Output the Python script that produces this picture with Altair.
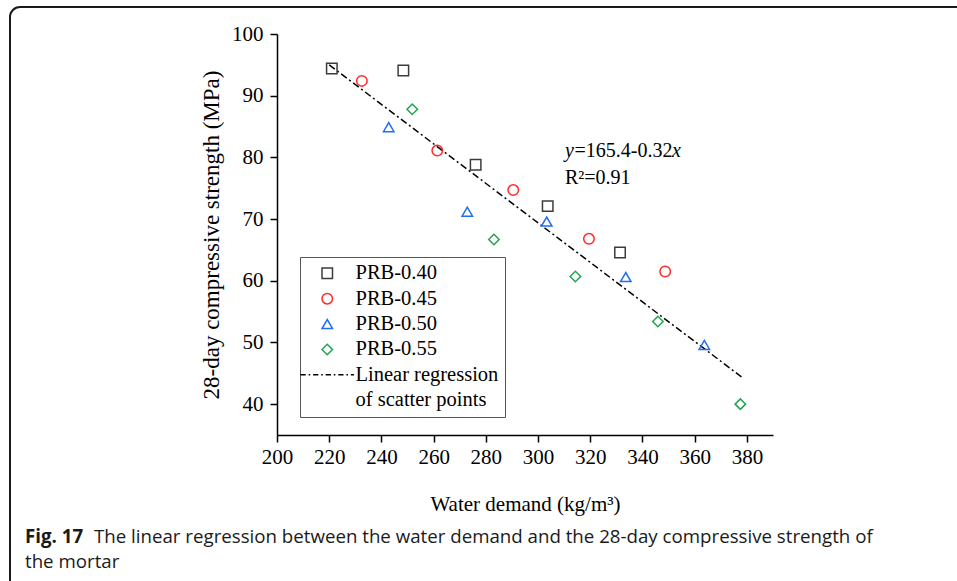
import altair as alt
import pandas as pd

# ---- data ----
series_names = ["PRB-0.40", "PRB-0.45", "PRB-0.50", "PRB-0.55"]
x_040 = [221.0, 248.4, 276.1, 303.7, 331.4]
y_040 = [94.4, 94.1, 78.8, 72.1, 64.6]
x_045 = [232.5, 261.4, 290.5, 319.5, 348.7]
y_045 = [92.4, 81.1, 74.7, 66.8, 61.5]
x_050 = [242.8, 272.9, 303.3, 333.6, 363.7]
y_050 = [84.9, 71.2, 69.6, 60.6, 49.6]
x_055 = [251.8, 283.1, 314.3, 345.9, 377.5]
y_055 = [87.8, 66.7, 60.7, 53.4, 40.0]

reg_x = [220.0, 378.0]
reg_y = [95.0, 44.4]

legend_extra = ["Linear regression", "of scatter points"]
x_ticks = list(range(200, 391, 10))
y_ticks = list(range(40, 101, 5))

eq_parts = ["y", "=165.4-0.32", "x"]
r2_text = "R\u00b2=0.91"
caption_bold = "Fig. 17"
caption_line1 = "The linear regression between the water demand and the 28-day compressive strength of"
caption_line2 = "the mortar"

# ---- tables ----
rows = []
for name, xs, ys in zip(series_names, [x_040, x_045, x_050, x_055], [y_040, y_045, y_050, y_055]):
    for xv, yv in zip(xs, ys):
        rows.append({"series": name, "x": xv, "y": yv})
pts = pd.DataFrame(rows)
reg = pd.DataFrame({"x": reg_x, "y": reg_y})

domain = series_names + legend_extra
colors = ["#3c3c3c", "#ff2a2a", "#1f6fee", "#22a552", "#000000", "transparent"]
dash_path = ("M-5.1,0H-4.1M-3.55,0H-3.25M-2.7,0H-1.7M-1.15,0H-0.85"
             "M-0.3,0H0.7M1.25,0H1.55M2.1,0H3.1M3.65,0H3.95M4.5,0H5.1")
shapes = ["square", "circle", "triangle-up", "diamond", dash_path, "M0,0L0,0"]
sizes = [110, 110, 240, 200, 100, 100]

SERIF = "Liberation Serif"
SANS = "Open Sans"

leg = alt.Legend(
    title=None, orient="none", legendX=23, legendY=223,
    strokeColor="#555555", fillColor="white", padding=6,
    labelFont=SERIF, labelFontSize=20.5, labelColor="black",
    labelOffset=18, rowPadding=4.4, symbolStrokeWidth=1.5,
    labelLimit=400, symbolOffset=11,
)

xscale = alt.Scale(domain=[200, 390], nice=False, zero=False)
yscale = alt.Scale(domain=[35, 100], nice=False, zero=False)

xaxis = alt.Axis(
    values=x_ticks, labelExpr="datum.value % 20 === 0 ? datum.label : ''",
    grid=False, labelOverlap=False, labelFlush=False, domainColor="black", domainWidth=1.5,
    tickColor="black", tickWidth=1.5, zindex=1,
    tickSize={"condition": {"test": "datum.value % 20 === 0", "value": 7}, "value": 4},
    labelFont=SERIF, labelFontSize=21, labelColor="black", labelPadding=4,
    title="Water demand (kg/m\u00b3)", titleFont=SERIF, titleFontSize=21,
    titleFontWeight="normal", titleColor="black", titlePadding=26,
)
yaxis = alt.Axis(
    values=y_ticks, labelExpr="datum.value % 10 === 0 ? datum.label : ''",
    grid=False, labelOverlap=False, labelFlush=False, domainColor="black", domainWidth=1.5,
    tickColor="black", tickWidth=1.5, zindex=1,
    tickSize={"condition": {"test": "datum.value % 10 === 0", "value": 7}, "value": 4},
    labelFont=SERIF, labelFontSize=21, labelColor="black", labelPadding=7,
    title="28-day compressive strength (MPa)", titleFont=SERIF, titleFontSize=23,
    titleFontWeight="normal", titleColor="black", titlePadding=8,
)

frame = alt.Chart(pd.DataFrame({"a": [0]})).mark_rect(
    fill="white", fillOpacity=0, stroke="#1a1a1a", strokeWidth=2, cornerRadius=10
).encode(
    x=alt.value(-267), x2=alt.value(720), y=alt.value(-27), y2=alt.value(580)
)

line = alt.Chart(reg).mark_line(
    color="black", strokeWidth=1.5, strokeDash=[7, 3, 2, 3]
).encode(
    x=alt.X("x:Q", scale=xscale, axis=xaxis),
    y=alt.Y("y:Q", scale=yscale, axis=yaxis),
)

points = alt.Chart(pts).mark_point(filled=False, strokeWidth=1.5, opacity=1).encode(
    x=alt.X("x:Q", scale=xscale, axis=xaxis),
    y=alt.Y("y:Q", scale=yscale, axis=yaxis),
    color=alt.Color("series:N", scale=alt.Scale(domain=domain, range=colors), legend=leg),
    shape=alt.Shape("series:N", scale=alt.Scale(domain=domain, range=shapes), legend=leg),
    size=alt.Size("series:N", scale=alt.Scale(domain=domain, range=sizes), legend=leg),
)

ann_x = 310.3
ann = pd.DataFrame({
    "x": [ann_x, ann_x, ann_x, ann_x],
    "y": [80.07, 80.07, 80.07, 75.7],
    "t": [eq_parts[0], eq_parts[1], eq_parts[2], r2_text],
    "style": ["italic", "normal", "italic", "normal"],
    "dx": [0, 9.5, 107, 0],
})
ann_layers = []
for i in range(len(ann)):
    r = ann.iloc[[i]]
    ann_layers.append(
        alt.Chart(r).mark_text(
            align="left", baseline="alphabetic", font=SERIF, fontSize=20,
            fontStyle=r["style"].iloc[0], dx=float(r["dx"].iloc[0]), color="black"
        ).encode(x="x:Q", y="y:Q", text="t:N")
    )

cap_df = pd.DataFrame({"a": [0]})
cap1 = alt.Chart(cap_df).mark_text(
    align="left", baseline="alphabetic", font=SANS, fontSize=18.7, fontWeight="bold", color="#1a1a1a"
).encode(x=alt.value(-252), y=alt.value(509), text=alt.value(caption_bold))
cap2 = alt.Chart(cap_df).mark_text(
    align="left", baseline="alphabetic", font=SANS, fontSize=18.7, color="#1a1a1a"
).encode(x=alt.value(-183), y=alt.value(509), text=alt.value(caption_line1))
cap3 = alt.Chart(cap_df).mark_text(
    align="left", baseline="alphabetic", font=SANS, fontSize=18.7, color="#1a1a1a"
).encode(x=alt.value(-252), y=alt.value(534), text=alt.value(caption_line2))

chart = alt.layer(frame, line, points, *ann_layers, cap1, cap2, cap3).properties(
    width=496, height=401,
    autosize=alt.AutoSizeParams(type="none"),
    padding={"left": 277, "top": 34, "right": 184, "bottom": 146},
    background="white",
).configure_view(stroke=None)

chart.save("out.html", embed_options={"renderer": "svg", "actions": False})
